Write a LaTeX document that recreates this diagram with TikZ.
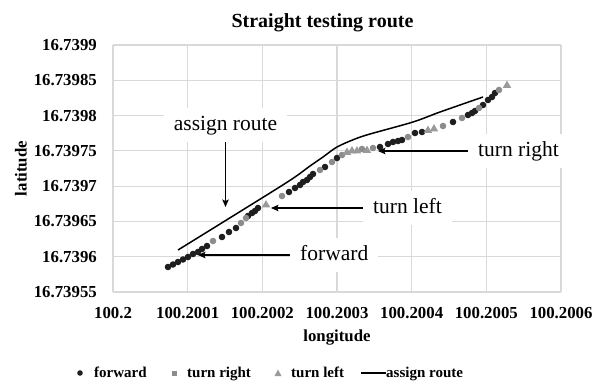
\documentclass[tikz,border=0pt]{standalone}
\usepackage{fontspec}
\setmainfont{Liberation Serif}
\usetikzlibrary{arrows.meta}
\definecolor{gridgray}{HTML}{D9D9D9}
\definecolor{fwdcol}{HTML}{1E1E1E}
\definecolor{rightcol}{HTML}{8C8C8C}
\definecolor{leftcol}{HTML}{9A9A9A}
\tikzset{
  gridline/.style={draw=gridgray, line width=1.1pt},
  ticklabel/.style={font=\bfseries\fontsize{16.8}{18}\selectfont, inner sep=0pt},
  axistitle/.style={font=\bfseries\fontsize{16.8}{18}\selectfont, inner sep=0pt},
  charttitle/.style={font=\bfseries\fontsize{20}{22}\selectfont, inner sep=0pt},
  legendlabel/.style={font=\bfseries\fontsize{15}{17}\selectfont, inner sep=0pt},
  annot/.style={font=\fontsize{21.5}{24}\selectfont, fill=white, inner xsep=10pt,
    inner ysep=7pt, text height=15pt, text depth=5pt},
  pointer/.style={draw=black, line width=1.1pt, -{Stealth[length=7.5pt,width=6.5pt,inset=1.5pt]}},
  route/.style={draw=black, line width=1.5pt},
  fwdmark/.style={fill=fwdcol},
  rightmark/.style={fill=rightcol},
  leftmark/.style={fill=leftcol},
}
\begin{document}
\begin{tikzpicture}[x=1pt, y=-1pt]
\useasboundingbox (0,0) rectangle (594,381);

% plot area grid
\foreach \i in {0,...,6} {
  \draw[gridline] ({113+\i*74.667},45) -- ({113+\i*74.667},292);
}
\foreach \j in {0,...,7} {
  \draw[gridline] (113,{45+\j*35.286}) -- (561,{45+\j*35.286});
}

% axis tick labels
\foreach \lab [count=\j from 0] in {16.7399,16.73985,16.7398,16.73975,16.7397,16.73965,16.7396,16.73955} {
  \node[ticklabel, anchor=east] (yt\j) at (97,{45+\j*35.286}) {\lab};
}
\foreach \lab [count=\i from 0] in {100.2,100.2001,100.2002,100.2003,100.2004,100.2005,100.2006} {
  \node[ticklabel, anchor=base] (xt\i) at ({113+\i*74.667},318) {\lab};
}

% titles
\node[charttitle, anchor=base] (title) at (322.5,27.5) {Straight testing route};
\node[axistitle, anchor=base] (xlab) at (337,341) {longitude};
\node[axistitle, anchor=base, rotate=90] (ylab) at (26.5,168.5) {latitude};

% forward points
\foreach \x/\y in {168/267,173/264.5,178/262,183/259.5,188/257,193/254,198/252,202/249,207/246,
  222/237,229/232,236/228,248/216,252/213,255/211,258/208,289/192,295/188,300/185,303/182,
  307/180,310/177,313/174,325/167,337/158,380/147,388/144,393/142,398/141,402/140,
  415/133,422/132,453/122,468/115,472/113,475/111,483/105,488/100,492/97,495/93} {
  \fill[fwdmark] (\x,\y) circle (3.3);
}
% turn right points
\foreach \x/\y in {213/241,241/223,246/218,282/196,320/170,332/162,342/155,362/149,373/148,
  408/137,443/126,462/118,479/108,499/90} {
  \fill[rightmark] (\x,\y) circle (3.3);
}
% turn left points
\foreach \x/\y in {266/204.5,347/152,352/150.5,357/150.5,367/150,428/130,434/128.5,507/85} {
  \fill[leftmark] (\x,{\y-4.4}) -- ({\x+4.2},{\y+2.8}) -- ({\x-4.2},{\y+2.8}) -- cycle;
}

% assigned route
\draw[route] plot[smooth, tension=0.5] coordinates {(178,250) (270,193) (295,177) (310,166)
  (323,157) (337,147) (355,139) (370,134) (413,122) (440,112) (483,97)};

% annotations
\node[annot, anchor=base] (aroute) at (225.5,130) {assign route};
\node[annot, anchor=base west] (aright) at (468,156) {turn right};
\node[annot, anchor=base west] (aleft) at (363,213) {turn left};
\node[annot, anchor=base west] (afwd) at (290,260) {forward};
\coordinate (tiproute) at (226,207);
\coordinate (tipright) at (378,151);
\coordinate (tipleft) at (271,208);
\coordinate (tipfwd) at (198,255);
\draw[pointer] (aroute.south) -- (aroute.south |- tiproute);
\draw[pointer] (aright.west) -- (tipright |- aright.west);
\draw[pointer] (aleft.west) -- (tipleft |- aleft.west);
\draw[pointer] (afwd.west) -- (tipfwd |- afwd.west);

% legend
\fill[fwdmark] (80,373) circle (2.8);
\node[legendlabel, anchor=base west] (lfwd) at (94,377.5) {forward};
\fill[rightmark] (171.5,370.5) rectangle (176.5,375.5);
\node[legendlabel, anchor=base west] (lright) at (187,377.5) {turn right};
\fill[leftmark] (278,369.5) -- (281.5,376) -- (274.5,376) -- cycle;
\node[legendlabel, anchor=base west] (lleft) at (291,377.5) {turn left};
\coordinate (lroute0) at (361,373);
\node[legendlabel, anchor=base west] (lroute) at (386,377.5) {assign route};
\draw[route, line width=1.3pt] (lroute0) -- (lroute.west |- lroute0);
\end{tikzpicture}
\end{document}
